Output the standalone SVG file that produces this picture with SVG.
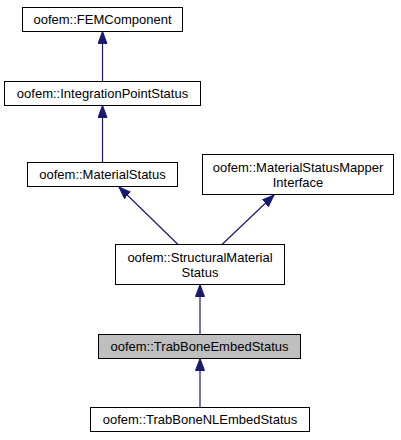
<svg xmlns="http://www.w3.org/2000/svg" width="401" height="440" viewBox="0 0 401 440">
<style>
.box{fill:#ffffff;stroke:#000000;stroke-width:1}
.cur{fill:#bfbfbf;stroke:#000000;stroke-width:1}
text{font-family:"Liberation Sans",Arial,sans-serif;font-size:13px;fill:#000000;text-anchor:middle}
.edge{stroke:#191970;stroke-width:1.2;fill:none;marker-end:url(#arr)}
</style>
<defs>
<marker id="arr" markerUnits="userSpaceOnUse" markerWidth="14" markerHeight="11" refX="12" refY="5" orient="auto">
<path d="M0,0.5 L12,5 L0,9.5 z" fill="#191970" stroke="#191970" stroke-width="1"/>
</marker>
</defs>
<g id="connectors">
<line class="edge" x1="102.5" y1="81.5" x2="102.5" y2="31.5"/>
<line class="edge" x1="102.5" y1="162.5" x2="102.5" y2="105.5"/>
<line class="edge" x1="178" y1="244.5" x2="119" y2="187"/>
<line class="edge" x1="222" y1="244.5" x2="274" y2="195"/>
<line class="edge" x1="200" y1="334.5" x2="200" y2="284.5"/>
<line class="edge" x1="200" y1="407.5" x2="200" y2="358.5"/>
</g>
<g id="FEMComponent">
<rect class="box" x="22.5" y="7.5" width="160" height="24"/>
<text x="102.5" y="24">oofem::FEMComponent</text>
</g>
<g id="IntegrationPointStatus">
<rect class="box" x="4.5" y="81.5" width="196" height="24"/>
<text x="102.5" y="98">oofem::IntegrationPointStatus</text>
</g>
<g id="MaterialStatus">
<rect class="box" x="27.5" y="162.5" width="150" height="24"/>
<text x="102.5" y="179">oofem::MaterialStatus</text>
</g>
<g id="MaterialStatusMapperInterface">
<rect class="box" x="202.5" y="154.5" width="191" height="40"/>
<text x="298" y="172">oofem::MaterialStatusMapper</text>
<text x="298" y="187">Interface</text>
</g>
<g id="StructuralMaterialStatus">
<rect class="box" x="115.5" y="244.5" width="169" height="40"/>
<text x="200" y="262">oofem::StructuralMaterial</text>
<text x="200" y="277">Status</text>
</g>
<g id="TrabBoneEmbedStatus">
<rect class="cur" x="98.5" y="334.5" width="202" height="24"/>
<text x="199.5" y="351">oofem::TrabBoneEmbedStatus</text>
</g>
<g id="TrabBoneNLEmbedStatus">
<rect class="box" x="90.5" y="407.5" width="219" height="24"/>
<text x="200" y="424">oofem::TrabBoneNLEmbedStatus</text>
</g>
</svg>
